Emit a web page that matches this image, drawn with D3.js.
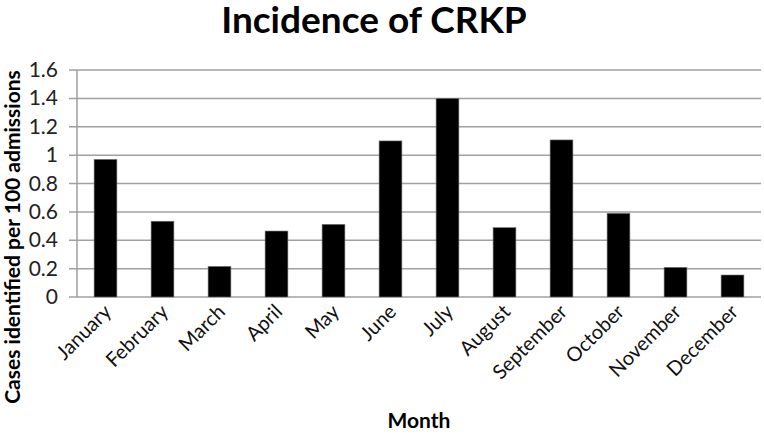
<!DOCTYPE html>
<html>
<head>
<meta charset="utf-8">
<script src="https://cdn.jsdelivr.net/npm/d3@7"></script>
<style>
  body { margin: 0; background: #fff; }
  text { font-family: Lato, "Open Sans", sans-serif; }
</style>
</head>
<body>
<svg width="764" height="435"></svg>
<script>
var months = ['January', 'February', 'March', 'April', 'May', 'June',
              'July', 'August', 'September', 'October', 'November', 'December'];
var incidence = [0.97, 0.534, 0.216, 0.465, 0.512, 1.10, 1.40, 0.489, 1.107, 0.59, 0.209, 0.155];
var yTicks = [0, 0.2, 0.4, 0.6, 0.8, 1, 1.2, 1.4, 1.6];

var svg = d3.select('svg');
var plotLeft = 77, plotRight = 761, plotTop = 70, plotBottom = 297;

var x = d3.scaleBand().domain(months).range([plotLeft, plotRight]).paddingInner(0.6).paddingOuter(0.3);
var y = d3.scaleLinear().domain([0, 1.6]).range([plotBottom, plotTop]);

// grid lines
svg.append('g').selectAll('line').data(yTicks).enter().append('line')
  .attr('x1', plotLeft - 8).attr('x2', plotRight)
  .attr('y1', function(d){ return y(d) }).attr('y2', function(d){ return y(d) })
  .attr('stroke', '#a0a0a0').attr('stroke-width', 1.5);

// y axis line
svg.append('line')
  .attr('x1', plotLeft).attr('x2', plotLeft).attr('y1', plotTop).attr('y2', plotBottom)
  .attr('stroke', '#a0a0a0').attr('stroke-width', 1.5);

// bars
svg.append('g').selectAll('rect').data(incidence).enter().append('rect')
  .attr('x', function(d, i){ return x(months[i]) })
  .attr('width', x.bandwidth())
  .attr('y', function(d){ return y(d) })
  .attr('height', function(d){ return plotBottom - y(d) })
  .attr('fill', '#000')
  .attr('stroke', '#777').attr('stroke-width', 0.6);

// y tick labels
svg.append('g').selectAll('text').data(yTicks).enter().append('text')
  .attr('x', plotLeft - 19).attr('y', function(d){ return y(d) + 7 })
  .attr('text-anchor', 'end')
  .attr('font-size', 21).attr('fill', '#222')
  .text(function(d){ return d3.format('')(+d.toFixed(1)) });

// month labels
svg.append('g').selectAll('text').data(months).enter().append('text')
  .attr('text-anchor', 'end')
  .attr('font-size', 20).attr('fill', '#111')
  .attr('transform', function(d){
    var cx = x(d) + x.bandwidth() / 2 + 7;
    return 'translate(' + cx + ',' + 313 + ') rotate(-45)';
  })
  .text(function(d){ return d });

// title
svg.append('text')
  .attr('x', 374).attr('y', 33)
  .attr('text-anchor', 'middle')
  .attr('font-size', 37).attr('font-weight', 'bold')
  .text('Incidence of CRKP');

// axis titles
svg.append('text')
  .attr('x', 419).attr('y', 428)
  .attr('text-anchor', 'middle')
  .attr('font-size', 21).attr('font-weight', 'bold')
  .text('Month');

svg.append('text')
  .attr('transform', 'translate(20,237) rotate(-90)')
  .attr('text-anchor', 'middle')
  .attr('font-size', 21).attr('font-weight', 'bold')
  .text('Cases identified per 100 admissions');
</script>
</body>
</html>
